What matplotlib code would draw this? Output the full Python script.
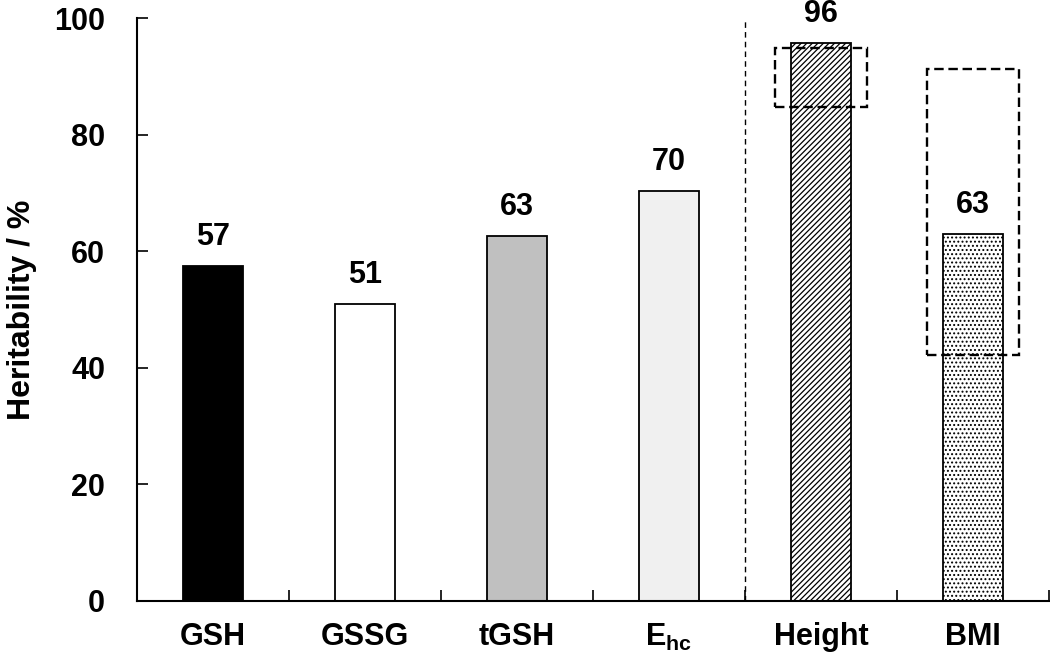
import matplotlib.pyplot as plt
from matplotlib.patches import Rectangle
import numpy as np

plt.rcParams["font.family"] = ["Liberation Sans", "DejaVu Sans"]
plt.rcParams["font.weight"] = "bold"
plt.rcParams["mathtext.fontset"] = "custom"
plt.rcParams["mathtext.bf"] = "Liberation Sans:bold"
plt.rcParams["mathtext.rm"] = "Liberation Sans:bold"
plt.rcParams["hatch.linewidth"] = 0.9

categories = ["GSH", "GSSG", "tGSH", r"$\mathbf{E_{hc}}$", "Height", "BMI"]
heritability = [57.5, 51, 62.7, 70.3, 95.8, 63]
value_labels = ["57", "51", "63", "70", "96", "63"]
face_colors = ["#000000", "#ffffff", "#c0c0c0", "#f0f0f0", "#ffffff", "#ffffff"]
hatches = [None, None, None, None, "//////", "...."]

# literature ranges drawn as dashed boxes (low, high) for Height and BMI
ref_names = ["Height", "BMI"]
ref_low = [84.8, 42.2]
ref_high = [94.9, 91.2]

fig, ax = plt.subplots(figsize=(10.5, 6.7), dpi=100)
fig.subplots_adjust(left=0.1305, right=0.999, bottom=0.103, top=0.973)

x = np.arange(len(categories))
for xi, h, fc, hv in zip(x, heritability, face_colors, hatches):
    ax.bar(xi, h, width=0.4, color=fc, edgecolor="black",
           linewidth=1.3, hatch=hv, zorder=2)

for xi, h, lab in zip(x, heritability, value_labels):
    ax.text(xi, h + 2.4, lab, ha="center", va="bottom", fontsize=22,
            fontweight="bold")

for name, lo, hi in zip(ref_names, ref_low, ref_high):
    xi = categories.index(name)
    ax.add_patch(Rectangle((xi - 0.3, lo), 0.6, hi - lo, fill=False,
                           edgecolor="black", linestyle=(0, (4, 2)),
                           linewidth=1.7, zorder=3))

ax.axvline(3.5, color="black", linestyle=(0, (4, 3)), linewidth=1.0, zorder=1)

ax.set_xlim(-0.5, len(categories) - 0.5)
ax.set_ylim(0, 100)
ax.set_yticks(range(0, 101, 20))
ax.set_xticks(x)
ax.set_xticklabels(categories, fontsize=22, fontweight="bold")
ax.set_xticks(np.arange(0.5, len(categories), 1.0), minor=True)
ax.tick_params(axis="x", which="major", length=0, pad=15)
ax.tick_params(axis="x", which="minor", direction="in", length=8, width=1.2)
ax.tick_params(axis="y", direction="in", length=8, width=1.2, labelsize=22,
               pad=23)
for lab in ax.get_yticklabels():
    lab.set_fontweight("bold")

ax.set_ylabel("Heritability / %", fontsize=23, fontweight="bold", labelpad=12)

for side in ["top", "right"]:
    ax.spines[side].set_visible(False)
for side in ["left", "bottom"]:
    ax.spines[side].set_linewidth(1.5)

fig.savefig("out.png", dpi=100)
